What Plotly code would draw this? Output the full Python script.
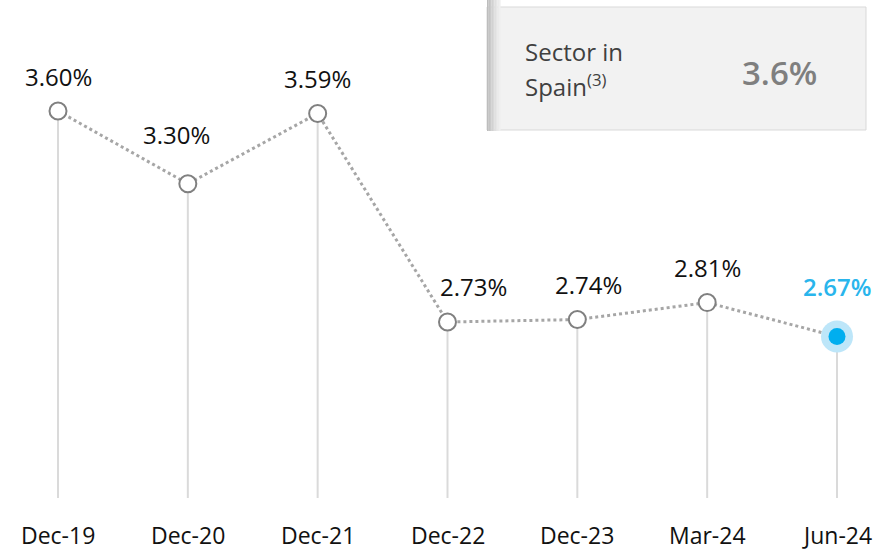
import plotly.graph_objects as go

# Non-performing loan ratio by period
periods = ["Dec-19", "Dec-20", "Dec-21", "Dec-22", "Dec-23", "Mar-24", "Jun-24"]
npl_ratio = [3.60, 3.30, 3.59, 2.73, 2.74, 2.81, 2.67]
sector_label_lines = ["Sector in", "Spain<sup>(3)</sup>"]
sector_value = "3.6%"

W, H = 884, 551
PLOT_H = 498
FONT = "Open Sans"

x_idx = list(range(len(periods)))
y_min, y_max = 2.004, 4.058
x_lo, x_hi = -0.4467, 6.362

# value-label offsets from each marker (px): vertical lift and sideways nudge
label_lift = [35, 49, 35, 35, 35, 35, 50]
label_nudge = [0, -11, 0, 26, 11, 0, 0]


def px_x(px):
    return px / W


def px_y(py):
    return 1 - py / PLOT_H


fig = go.Figure()

# vertical stems from each point down to the baseline
stem_x, stem_y = [], []
for i, v in zip(x_idx, npl_ratio):
    stem_x += [i, i, None]
    stem_y += [v, y_min, None]
fig.add_trace(go.Scatter(x=stem_x, y=stem_y, mode="lines",
                         line=dict(color="#dadada", width=2),
                         hoverinfo="skip", showlegend=False))

# dotted connecting line
fig.add_trace(go.Scatter(x=x_idx, y=npl_ratio, mode="lines",
                         line=dict(color="#a6a6a6", width=3, dash="dot"),
                         hoverinfo="skip", showlegend=False))

# hollow markers for past periods
fig.add_trace(go.Scatter(x=x_idx[:-1], y=npl_ratio[:-1], mode="markers",
                         marker=dict(size=17, color="white",
                                     line=dict(color="#808080", width=2)),
                         showlegend=False))

# highlighted latest period with halo
fig.add_trace(go.Scatter(x=x_idx[-1:], y=npl_ratio[-1:], mode="markers",
                         marker=dict(size=32, color="#bde6f9", line=dict(width=0)),
                         hoverinfo="skip", showlegend=False))
fig.add_trace(go.Scatter(x=x_idx[-1:], y=npl_ratio[-1:], mode="markers",
                         marker=dict(size=17, color="#00aeef", line=dict(width=0)),
                         showlegend=False))

annotations = []
for i, (p, v) in enumerate(zip(periods, npl_ratio)):
    last = i == len(periods) - 1
    annotations.append(dict(
        x=i, y=v, xref="x", yref="y", text=f"{v:.2f}%", showarrow=False,
        yshift=label_lift[i], xshift=label_nudge[i], yanchor="middle",
        font=dict(family=FONT, size=24,
                  color="#29b5ec" if last else "#111111",
                  weight=600 if last else 400)))
    annotations.append(dict(
        x=i, y=0, xref="x", yref="paper", text=p, showarrow=False,
        yanchor="middle", yshift=-37,
        font=dict(family=FONT, size=23, color="#111111")))

# sector benchmark box
shapes = [dict(type="rect", xref="paper", yref="paper",
               x0=px_x(487), x1=px_x(866), y0=px_y(130), y1=px_y(7),
               fillcolor="#f2f2f2", line=dict(color="#d9d9d9", width=1),
               layer="below")]
shade = ["#bdbdbd", "#c4c4c4", "#cbcbcb", "#d2d2d2", "#d9d9d9",
         "#e0e0e0", "#e6e6e6", "#ebebeb", "#efefef"]
for k, c in enumerate(shade):
    shapes.append(dict(type="rect", xref="paper", yref="paper",
                       x0=px_x(487 + 1.5 * k), x1=px_x(488.6 + 1.5 * k),
                       y0=px_y(131), y1=px_y(0),
                       fillcolor=c, line=dict(width=0), layer="below"))

for line_text, py in zip(sector_label_lines, [52, 85]):
    annotations.append(dict(xref="paper", yref="paper", x=px_x(523), y=px_y(py),
                            xanchor="left", yanchor="middle", align="left",
                            text=line_text, showarrow=False,
                            font=dict(family=FONT, size=24, color="#404040")))
annotations.append(dict(xref="paper", yref="paper", x=px_x(779), y=px_y(72),
                        xanchor="center", yanchor="middle",
                        text=sector_value, showarrow=False,
                        font=dict(family=FONT, size=33, weight=600,
                                  color="#7f7f7f")))

fig.update_layout(
    width=W, height=H,
    margin=dict(l=0, r=0, t=0, b=H - PLOT_H),
    paper_bgcolor="white", plot_bgcolor="white",
    xaxis=dict(range=[x_lo, x_hi], visible=False),
    yaxis=dict(range=[y_min, y_max], visible=False),
    shapes=shapes, annotations=annotations,
    showlegend=False,
)

fig.write_html("out.html")
